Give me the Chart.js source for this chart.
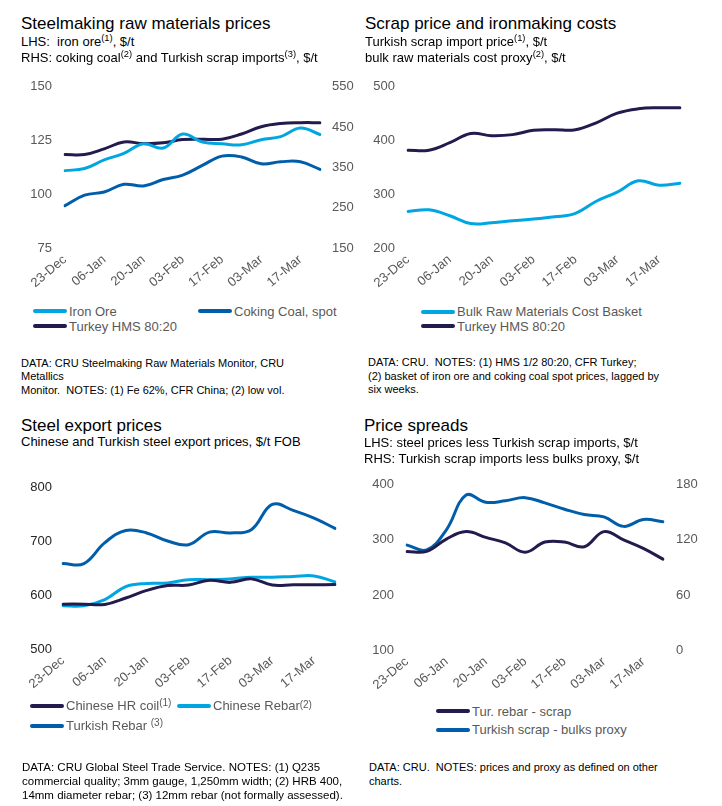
<!DOCTYPE html>
<html>
<head>
<meta charset="utf-8">
<script src="https://cdn.jsdelivr.net/npm/chart.js@4/dist/chart.umd.min.js"></script>
<style>
  html, body { margin:0; padding:0; background:#fff; }
  body { width:722px; height:806px; position:relative; overflow:hidden;
         font-family:'Liberation Sans', Arial, sans-serif; }
  canvas { position:absolute; }
  .t { position:absolute; white-space:nowrap; }
  sup { font-size:0.72em; vertical-align:0; position:relative; top:-0.5em; }
  .lg { position:absolute; white-space:nowrap; font-size:13px; color:#595959; line-height:16px; }
  .lg i { display:inline-block; width:34px; height:4px; border-radius:2px; vertical-align:middle; margin-right:2px; position:relative; top:-1px; }
</style>
</head>
<body>
<canvas id="c1" width="361" height="234" style="left:0;top:66px"></canvas>
<canvas id="c2" width="361" height="234" style="left:361px;top:66px"></canvas>
<canvas id="c3" width="361" height="232" style="left:0;top:469px"></canvas>
<canvas id="c4" width="361" height="238" style="left:361px;top:464px"></canvas>
<script>
// ---------- data ----------
const weeks = ['23-Dec','30-Dec','06-Jan','13-Jan','20-Jan','27-Jan','03-Feb','10-Feb','17-Feb','24-Feb','03-Mar','10-Mar','17-Mar','24-Mar'];

// Panel 1: steelmaking raw materials
const ironOre     = [111, 112, 116, 119, 123.5, 121.5, 128, 124.3, 123.5, 123, 125.4, 126.8, 130.8, 127.8];
const cokingCoal  = [255, 281, 289, 308, 304, 320, 331, 355, 378, 376, 359, 364, 364, 345];
const turkeyHMS   = [382, 382, 396, 413, 409, 411, 419, 420, 420, 433, 451, 459, 461, 461];

// Panel 2: scrap price and ironmaking costs
const bulkBasket  = [268, 271, 260, 245.5, 247, 250.5, 254, 258, 264.5, 287, 304, 325, 317, 320.5];

// Panel 3: steel export prices
const chnHRC      = [583.5, 583.5, 583, 595, 609, 618, 619, 628, 624, 630.5, 619, 619.5, 619.5, 620];
const chnRebar    = [580.5, 580.5, 592, 616, 622, 623, 629, 629, 630.5, 633.5, 633.5, 635, 636, 625];
const turRebar    = [659, 659, 698, 720.5, 716, 701, 694, 717.5, 716, 722, 769, 758, 743.5, 724.5];

// Panel 4: price spreads
const rebarLessScrap = [279, 279, 301.5, 315, 304.5, 294.5, 277.5, 296, 296, 287.5, 315, 300, 284.5, 265];
const scrapLessBulks = [114.3, 109, 131, 168.8, 161, 162.6, 166, 160.3, 153.4, 147.6, 145, 134.7, 142.2, 139.8];

// ---------- styles ----------
const LIGHT = '#00A6E2', MID = '#005DAA', DARK = '#211B4E';
Chart.defaults.font.family = "'Liberation Sans', Arial, sans-serif";
Chart.defaults.font.size = 13;
Chart.defaults.animation = false;

function ds(label, data, color, axis) {
  return { label, data, borderColor: color, backgroundColor: color, borderWidth: 3,
           pointRadius: 0, tension: 0.4, yAxisID: axis || 'y', fill: false, borderCapStyle: 'round' };
}
function yScale(pos, min, max, step, width, pad, color) {
  return { position: pos, min, max, grid: { display:false, drawTicks:false }, border: { display:false },
           ticks: { stepSize: step, padding: pad, color: color || '#595959', font:{size:13} },
           afterFit: s => { s.width = width; } };
}
function xScale(color) {
  return { type:'category', offset:false, grid:{ display:false, drawTicks:false }, border:{ display:false },
           ticks: { autoSkip:false, minRotation:40, maxRotation:40, padding:4, color: color || '#595959', font:{size:13},
                    callback: function(v, i) { return i % 2 === 0 ? this.getLabelForValue(v) : ''; } },
           afterFit: s => { s.height = 52; } };
}
function make(id, datasets, scales, padding) {
  return new Chart(document.getElementById(id), {
    type: 'line',
    data: { labels: weeks, datasets },
    options: { responsive:false, maintainAspectRatio:false, layout:{ padding },
               plugins:{ legend:{ display:false }, tooltip:{ enabled:false } }, scales }
  });
}

const ch1 = make('c1',
  [ds('Iron Ore', ironOre, LIGHT, 'y'), ds('Coking Coal, spot', cokingCoal, MID, 'y2'), ds('Turkey HMS 80:20', turkeyHMS, DARK, 'y2')],
  { x: xScale(), y: yScale('left', 75, 150, 25, 65, 13), y2: yScale('right', 150, 550, 100, 41, 12) },
  { top:10, left:0, right:0, bottom:0 });

const ch2 = make('c2',
  [ds('Bulk Raw Materials Cost Basket', bulkBasket, LIGHT), ds('Turkey HMS 80:20', turkeyHMS, DARK)],
  { x: xScale(), y: yScale('left', 200, 500, 100, 47, 13) },
  { top:10, left:0, right:42, bottom:0 });

const ch3 = make('c3',
  [ds('Chinese HR coil', chnHRC, DARK), ds('Chinese Rebar', chnRebar, LIGHT), ds('Turkish Rebar', turRebar, MID)],
  { x: xScale('#595959'), y: yScale('left', 500, 800, 100, 63, 11, '#262626') },
  { top:10, left:0, right:26, bottom:0 });

const ch4 = make('c4',
  [ds('Tur. rebar - scrap', rebarLessScrap, DARK, 'y'), ds('Turkish scrap - bulks proxy', scrapLessBulks, MID, 'y2')],
  { x: xScale(), y: yScale('left', 100, 400, 100, 46, 13), y2: yScale('right', 0, 180, 60, 59, 13) },
  { top:10, left:0, right:0, bottom:0 });

// ---------- text ----------
function txt(html, x, baseline, size, color, lh) {
  lh = lh || Math.round(size * 1.2);
  const d = document.createElement('div');
  d.className = 't';
  d.style.left = x + 'px';
  d.style.top = (baseline - ((lh - 1.117 * size) / 2 + 0.905 * size)) + 'px';
  d.style.fontSize = size + 'px';
  d.style.lineHeight = lh + 'px';
  d.style.color = color || '#000';
  d.innerHTML = html;
  document.body.appendChild(d);
}
function legendItem(chart, idx, x, cy, extra) {
  const d = chart.data.datasets[idx];
  const el = document.createElement('div');
  el.className = 'lg';
  el.style.left = x + 'px';
  el.style.top = (cy - 8) + 'px';
  el.innerHTML = '<i style="background:' + d.borderColor + '"></i>' + d.label + (extra || '');
  document.body.appendChild(el);
}

// Panel 1
txt('Steelmaking raw materials prices', 21, 30, 17);
txt('LHS:&nbsp; iron ore<sup>(1)</sup>, $/t', 21, 46.5, 13, '#000', 16);
txt('RHS: coking coal<sup>(2)</sup> and Turkish scrap imports<sup>(3)</sup>, $/t', 21, 62.3, 13, '#000', 16);
legendItem(ch1, 0, 33, 311.5);
legendItem(ch1, 1, 198, 311.5);
legendItem(ch1, 2, 33, 326.5);
txt('DATA: CRU Steelmaking Raw Materials Monitor, CRU<br>Metallics<br>Monitor.&nbsp; NOTES: (1) Fe 62%, CFR China; (2) low vol.', 21, 367.3, 11, '#000', 13.4);

// Panel 2
txt('Scrap price and ironmaking costs', 365, 30, 17);
txt('Turkish scrap import price<sup>(1)</sup>, $/t', 365, 46.5, 13, '#000', 16);
txt('bulk raw materials cost proxy<sup>(2)</sup>, $/t', 365, 62.3, 13, '#000', 16);
legendItem(ch2, 0, 421, 312);
legendItem(ch2, 1, 421, 326.5);
txt('DATA: CRU.&nbsp; NOTES: (1) HMS 1/2 80:20, CFR Turkey;<br>(2) basket of iron ore and coking coal spot prices, lagged by<br>six weeks.', 368, 366.7, 11, '#000', 13.4);

// Panel 3
txt('Steel export prices', 21, 431.7, 17);
txt('Chinese and Turkish steel export prices, $/t FOB', 21, 446.7, 13, '#000', 16);
legendItem(ch3, 0, 30, 706, '<sup style="font-size:10px;top:-0.4em">(1)</sup>');
legendItem(ch3, 1, 177, 706, '<sup style="font-size:10px;top:-0.2em">(2)</sup>');
legendItem(ch3, 2, 30, 726, ' <sup style="font-size:10px;top:-0.4em">(3)</sup>');
txt('DATA: CRU Global Steel Trade Service. NOTES: (1) Q235<br>commercial quality; 3mm gauge, 1,250mm width; (2) HRB 400,<br>14mm diameter rebar; (3) 12mm rebar (not formally assessed).', 22, 771, 11.5, '#000', 14);

// Panel 4
txt('Price spreads', 364, 431.7, 17);
txt('LHS: steel prices less Turkish scrap imports, $/t', 364, 447.7, 13, '#000', 16);
txt('RHS: Turkish scrap imports less bulks proxy, $/t', 364, 463.3, 13, '#000', 16);
legendItem(ch4, 0, 436, 711.7);
legendItem(ch4, 1, 436, 730);
txt('DATA: CRU.&nbsp; NOTES: prices and proxy as defined on other<br>charts.', 369, 771, 11, '#000', 14);
</script>
</body>
</html>
